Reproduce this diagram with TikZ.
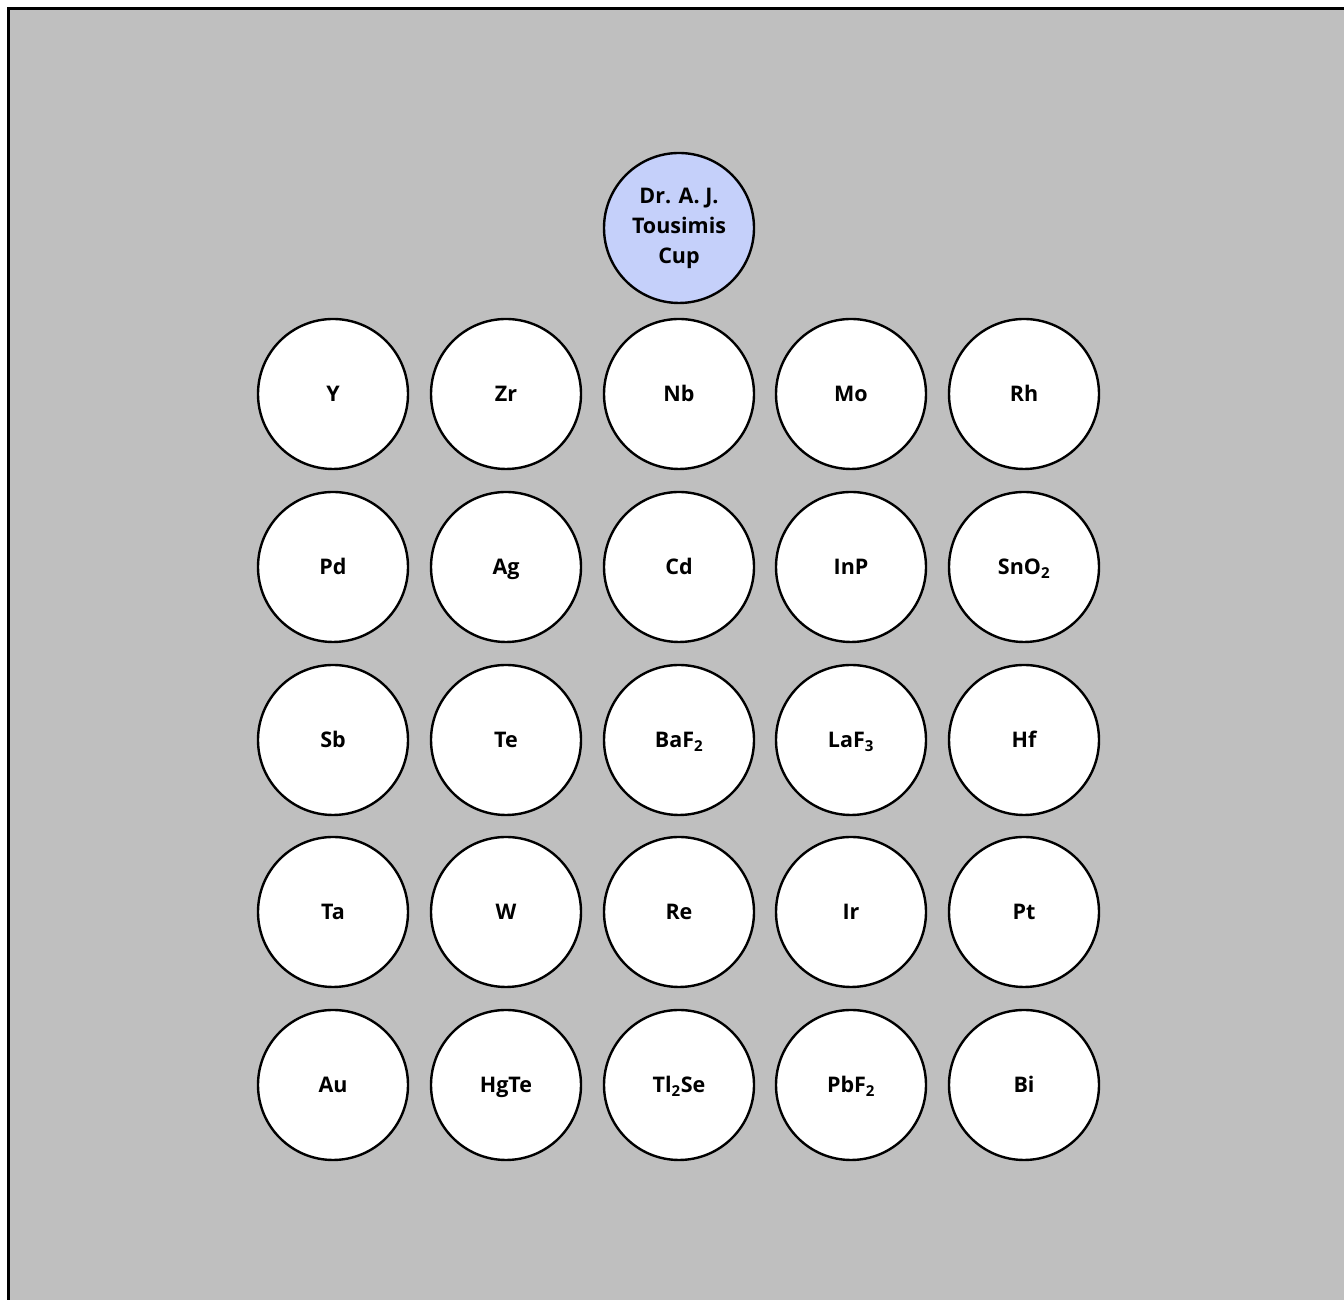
\documentclass[tikz,border=0pt]{standalone}
\usepackage{fontspec}
\setmainfont{Open Sans}
\begin{document}
\begin{tikzpicture}[x=1pt,y=1pt,
  base/.style={circle,draw=black,line width=2.4pt,fill=white,minimum size=150pt,inner sep=0pt,
    font=\fontsize{21.5}{30}\selectfont\bfseries},
  disc/.style={base,text height=15.5pt,text depth=0pt},
  cup/.style={base,fill=cupblue,align=center}]
\definecolor{cupblue}{HTML}{C5D0FA}
\definecolor{bggray}{HTML}{BFBFBF}
\useasboundingbox (0,0) rectangle (1344,1300);
\fill[white] (0,0) rectangle (1344,1300);
\draw[fill=bggray,line width=3pt] (8.5,-10) -- (8.5,1291.5) -- (1354,1291.5) -- (1354,-10) -- cycle;
\node[cup] (cup) at (679,1072) {Dr. A. J.\\Tousimis\\Cup};
% row 1
\node[disc] (Y)  at (333,906) {Y};
\node[disc] (Zr) at (506,906) {Zr};
\node[disc] (Nb) at (679,906) {Nb};
\node[disc] (Mo) at (851,906) {Mo};
\node[disc] (Rh) at (1024,906) {Rh};
% row 2
\node[disc] (Pd)  at (333,733) {Pd};
\node[disc] (Ag)  at (506,733) {Ag};
\node[disc] (Cd)  at (679,733) {Cd};
\node[disc] (InP) at (851,733) {InP};
\node[disc] (SnO) at (1024,733) {SnO\textsubscript{2}};
% row 3
\node[disc] (Sb)  at (333,560) {Sb};
\node[disc] (Te)  at (506,560) {Te};
\node[disc] (BaF) at (679,560) {BaF\textsubscript{2}};
\node[disc] (LaF) at (851,560) {LaF\textsubscript{3}};
\node[disc] (Hf)  at (1024,560) {Hf};
% row 4
\node[disc] (Ta) at (333,388) {Ta};
\node[disc] (W)  at (506,388) {W};
\node[disc] (Re) at (679,388) {Re};
\node[disc] (Ir) at (851,388) {Ir};
\node[disc] (Pt) at (1024,388) {Pt};
% row 5
\node[disc] (Au)   at (333,215) {Au};
\node[disc] (HgTe) at (506,215) {HgTe};
\node[disc] (TlSe) at (679,215) {Tl\textsubscript{2}Se};
\node[disc] (PbF)  at (851,215) {PbF\textsubscript{2}};
\node[disc] (Bi)   at (1024,215) {Bi};
\end{tikzpicture}
\end{document}
